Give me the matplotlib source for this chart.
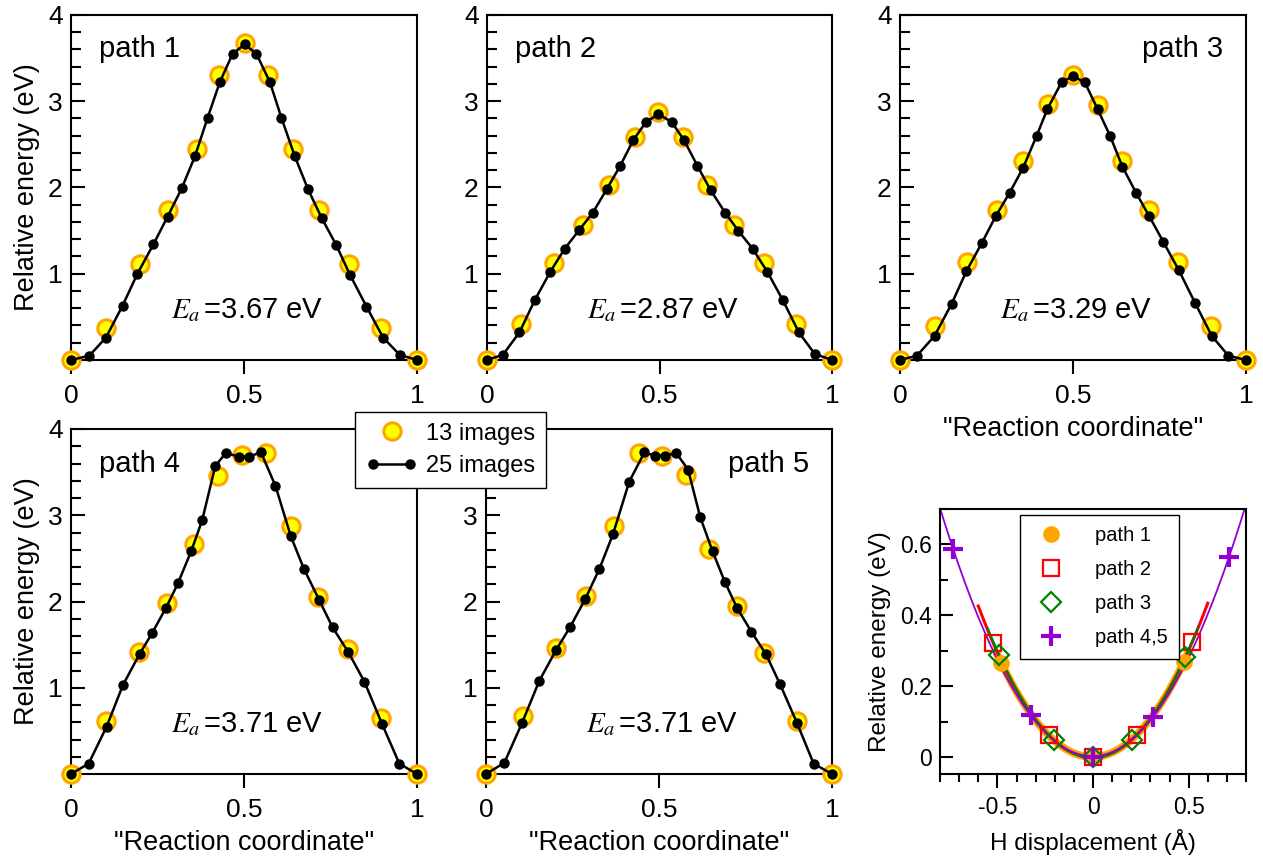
import matplotlib
matplotlib.use("Agg")
import matplotlib.pyplot as plt
import numpy as np
from matplotlib.lines import Line2D
from matplotlib.legend_handler import HandlerLine2D
from matplotlib.ticker import MultipleLocator

plt.rcParams['font.family'] = ['Liberation Sans', 'DejaVu Sans']
plt.rcParams['mathtext.fontset'] = 'stix'
plt.rcParams['axes.unicode_minus'] = False

# ---- NEB paths: 13-image and 25-image runs (x = reaction coordinate) ----
x13 = {
    1: [0, 0.101, 0.199, 0.281, 0.363, 0.427, 0.502, 0.570, 0.642, 0.717, 0.804, 0.897, 1.0],
    2: [0, 0.098, 0.193, 0.278, 0.354, 0.430, 0.497, 0.569, 0.639, 0.716, 0.802, 0.897, 1.0],
    3: [0, 0.102, 0.195, 0.281, 0.356, 0.428, 0.500, 0.573, 0.642, 0.719, 0.804, 0.898, 1.0],
    4: [0, 0.101, 0.196, 0.277, 0.356, 0.425, 0.495, 0.565, 0.636, 0.715, 0.800, 0.896, 1.0],
    5: [0, 0.106, 0.203, 0.289, 0.369, 0.441, 0.510, 0.578, 0.645, 0.724, 0.804, 0.899, 1.0],
}
y13 = {
    1: [0, 0.375, 1.11, 1.74, 2.45, 3.30, 3.68, 3.30, 2.45, 1.74, 1.11, 0.375, 0],
    2: [0, 0.42, 1.12, 1.56, 2.03, 2.59, 2.88, 2.59, 2.03, 1.56, 1.12, 0.42, 0],
    3: [0, 0.39, 1.14, 1.74, 2.31, 2.97, 3.31, 2.96, 2.31, 1.74, 1.14, 0.39, 0],
    4: [0, 0.61, 1.41, 1.98, 2.67, 3.46, 3.70, 3.72, 2.87, 2.05, 1.45, 0.65, 0],
    5: [0, 0.67, 1.46, 2.06, 2.87, 3.72, 3.69, 3.47, 2.61, 1.95, 1.40, 0.61, 0],
}
x25 = {
    1: [0, 0.053, 0.101, 0.149, 0.192, 0.238, 0.279, 0.320, 0.358, 0.395, 0.430, 0.467, 0.502,
        0.536, 0.575, 0.608, 0.647, 0.685, 0.724, 0.767, 0.806, 0.854, 0.902, 0.950, 1.0],
    2: [0, 0.046, 0.094, 0.138, 0.183, 0.225, 0.268, 0.307, 0.347, 0.386, 0.424, 0.461, 0.497,
        0.535, 0.571, 0.610, 0.648, 0.690, 0.728, 0.770, 0.813, 0.858, 0.904, 0.950, 1.0],
    3: [0, 0.049, 0.100, 0.149, 0.192, 0.237, 0.277, 0.317, 0.356, 0.395, 0.426, 0.467, 0.500,
        0.534, 0.571, 0.607, 0.643, 0.682, 0.720, 0.761, 0.806, 0.853, 0.901, 0.949, 1.0],
    4: [0, 0.051, 0.103, 0.150, 0.198, 0.234, 0.275, 0.309, 0.348, 0.379, 0.417, 0.447, 0.486,
        0.515, 0.549, 0.591, 0.635, 0.673, 0.717, 0.756, 0.802, 0.848, 0.899, 0.949, 1.0],
    5: [0, 0.053, 0.104, 0.154, 0.203, 0.244, 0.287, 0.328, 0.367, 0.414, 0.458, 0.487, 0.518,
        0.550, 0.584, 0.619, 0.655, 0.690, 0.725, 0.767, 0.809, 0.850, 0.899, 0.947, 1.0],
}
y25 = {
    1: [0, 0.05, 0.26, 0.63, 1.00, 1.34, 1.66, 1.99, 2.36, 2.81, 3.22, 3.55, 3.66,
        3.55, 3.22, 2.81, 2.36, 1.98, 1.65, 1.33, 0.99, 0.62, 0.26, 0.06, 0],
    2: [0, 0.06, 0.32, 0.69, 1.02, 1.29, 1.51, 1.71, 1.98, 2.25, 2.55, 2.76, 2.85,
        2.76, 2.55, 2.25, 1.97, 1.71, 1.50, 1.29, 1.02, 0.69, 0.32, 0.07, 0],
    3: [0, 0.05, 0.28, 0.65, 1.03, 1.36, 1.67, 1.94, 2.23, 2.60, 2.91, 3.22, 3.29,
        3.22, 2.91, 2.60, 2.24, 1.94, 1.67, 1.37, 1.04, 0.66, 0.28, 0.05, 0],
    4: [0, 0.12, 0.55, 1.03, 1.39, 1.63, 1.93, 2.21, 2.59, 2.94, 3.57, 3.72, 3.68,
        3.68, 3.73, 3.34, 2.76, 2.38, 2.02, 1.70, 1.41, 1.07, 0.58, 0.12, 0],
    5: [0, 0.13, 0.59, 1.08, 1.44, 1.71, 2.03, 2.38, 2.78, 3.39, 3.73, 3.69, 3.69,
        3.72, 3.53, 2.98, 2.58, 2.23, 1.93, 1.65, 1.39, 1.04, 0.59, 0.12, 0],
}
barriers = {1: "3.67", 2: "2.87", 3: "3.29", 4: "3.71", 5: "3.71"}

# ---- H displacement panel ----
disp_p1 = [-0.479, 0.0, 0.474]
e_p1 = [0.265, 0.0, 0.267]
disp_p2 = [-0.523, -0.232, 0.0, 0.228, 0.518]
e_p2 = [0.323, 0.061, 0.0, 0.061, 0.324]
disp_p3 = [-0.491, -0.205, 0.0, 0.202, 0.482]
e_p3 = [0.288, 0.047, 0.0, 0.047, 0.281]
disp_p45 = [-0.732, -0.325, 0.0, 0.312, 0.711]
e_p45 = [0.588, 0.118, 0.0, 0.113, 0.564]

W, H = 1263, 857
fig = plt.figure(figsize=(W / 100, H / 100), dpi=100)


def px_axes(left, top, right, bottom):
    return fig.add_axes([left / W, 1 - bottom / H, (right - left) / W, (bottom - top) / H])


boxes = {
    1: (71, 15, 417, 360),
    2: (487, 15, 832, 360),
    3: (900, 15, 1246, 360),
    4: (71, 429, 417, 774),
    5: (486, 429, 832, 774),
}
text_right = {1: False, 2: False, 3: True, 4: False, 5: True}

YELLOW = '#FFFF00'
ORANGE = '#FFA500'

for p in range(1, 6):
    ax = px_axes(*boxes[p])
    ax.plot(x13[p], y13[p], 'o', ms=12.5, mfc=YELLOW, mec=ORANGE, mew=2.2,
            clip_on=False, zorder=3)
    ax.plot(x25[p], y25[p], '-o', color='black', lw=1.8, ms=6.5,
            clip_on=False, zorder=4)
    ax.set_xlim(0, 1)
    ax.set_ylim(0, 4)
    ax.set_xticks([0, 0.5, 1])
    ax.set_xticklabels(['0', '0.5', '1'])
    ax.set_yticks([1, 2, 3, 4])
    ax.yaxis.set_minor_locator(MultipleLocator(0.2))
    ax.tick_params(axis='y', which='major', direction='in', length=10, width=1.5,
                   labelsize=19, pad=6)
    ax.tick_params(axis='y', which='minor', direction='in', length=7, width=1.5)
    ax.tick_params(axis='x', which='major', direction='out', length=10, width=1.5,
                   labelsize=19, pad=7)
    ax.tick_params(right=False, top=False)
    for s in ax.spines.values():
        s.set_linewidth(1.5)
    if text_right[p]:
        ax.text(0.935, 0.9, f'path {p}', transform=ax.transAxes, ha='right',
                va='center', fontsize=21)
    else:
        ax.text(0.082, 0.9, f'path {p}', transform=ax.transAxes, ha='left',
                va='center', fontsize=21)
    ax.text(0.51, 0.145, r'$E_a\,$=' + barriers[p] + ' eV', transform=ax.transAxes,
            ha='center', va='center', fontsize=21)
    if p in (1, 4):
        ax.set_ylabel('Relative energy (eV)', fontsize=19.5, labelpad=6)
    if p in (3, 4, 5):
        ax.set_xlabel('"Reaction coordinate"', fontsize=19.5, labelpad=6)

# figure legend shared by the NEB panels
h13 = Line2D([], [], ls='none', marker='o', ms=12.5, mfc=YELLOW, mec=ORANGE, mew=2.2)
h25 = Line2D([], [], color='black', lw=1.8, marker='o', ms=6.5)
fig.legend([h13, h25], ['13 images', '25 images'], loc='upper left',
           bbox_to_anchor=(355 / W, 1 - 412 / H), borderaxespad=0, fontsize=17,
           numpoints=2, handlelength=2.2, handletextpad=0.35, labelspacing=0.45,
           borderpad=0.45, fancybox=False, framealpha=1, edgecolor='black',
           handler_map={h13: HandlerLine2D(numpoints=1)})

# ---- H displacement panel ----
ax6 = px_axes(940, 509, 1246, 774)
PURPLE = '#9400D3'
GREEN = '#008000'
series = [
    (disp_p1, e_p1, ORANGE, 0.50, 5.5),
    (disp_p2, e_p2, 'red', 0.60, 2.2),
    (disp_p3, e_p3, GREEN, 0.55, 1.6),
    (disp_p45, e_p45, PURPLE, 0.80, 1.3),
]
for xs, ys, col, span, lw in series:
    coef = np.polyfit(xs, ys, 2)
    xx = np.linspace(-span, span, 200)
    ax6.plot(xx, np.polyval(coef, xx), color=col, lw=lw, zorder=2)

ax6.plot(disp_p1, e_p1, 'o', ms=12, color=ORANGE, mec='none', ls='none',
         label='path 1', zorder=3)
ax6.plot(disp_p2, e_p2, 's', ms=11, mfc='none', mec='red', mew=1.6, ls='none',
         label='path 2', zorder=4)
ax6.plot(disp_p3, e_p3, 'D', ms=10, mfc='none', mec=GREEN, mew=1.6, ls='none',
         label='path 3', zorder=5)
ax6.plot(disp_p45, e_p45, '+', ms=15, mec=PURPLE, mew=3, ls='none',
         label='path 4,5', zorder=6)

ax6.set_xlim(-0.8, 0.8)
ax6.set_ylim(-0.048, 0.7)
ax6.set_xticks([-0.5, 0, 0.5])
ax6.set_xticklabels(['-0.5', '0', '0.5'])
ax6.xaxis.set_minor_locator(MultipleLocator(0.1))
ax6.set_yticks([0, 0.2, 0.4, 0.6])
ax6.set_yticklabels(['0', '0.2', '0.4', '0.6'])
ax6.yaxis.set_minor_locator(MultipleLocator(0.1))
ax6.tick_params(axis='x', which='major', direction='out', length=10, width=1.5,
                labelsize=16.5, pad=6)
ax6.tick_params(axis='x', which='minor', direction='out', length=6, width=1.5)
ax6.tick_params(axis='y', which='major', direction='in', length=9, width=1.5,
                labelsize=16.5, pad=6)
ax6.tick_params(axis='y', which='minor', direction='in', length=6, width=1.5)
ax6.tick_params(right=False, top=False, which='both')
for s in ax6.spines.values():
    s.set_linewidth(1.5)
ax6.set_xlabel('H displacement (Å)', fontsize=17.5, labelpad=7)
ax6.set_ylabel('Relative energy (eV)', fontsize=17.5, labelpad=6)
ax6.legend(loc='upper left', bbox_to_anchor=(0.261, 0.977), borderaxespad=0,
           fontsize=14.5, handletextpad=1.2, handlelength=2.0, labelspacing=0.75,
           borderpad=0.55, fancybox=False, framealpha=1, edgecolor='black')

fig.savefig('out.png', dpi=100)
